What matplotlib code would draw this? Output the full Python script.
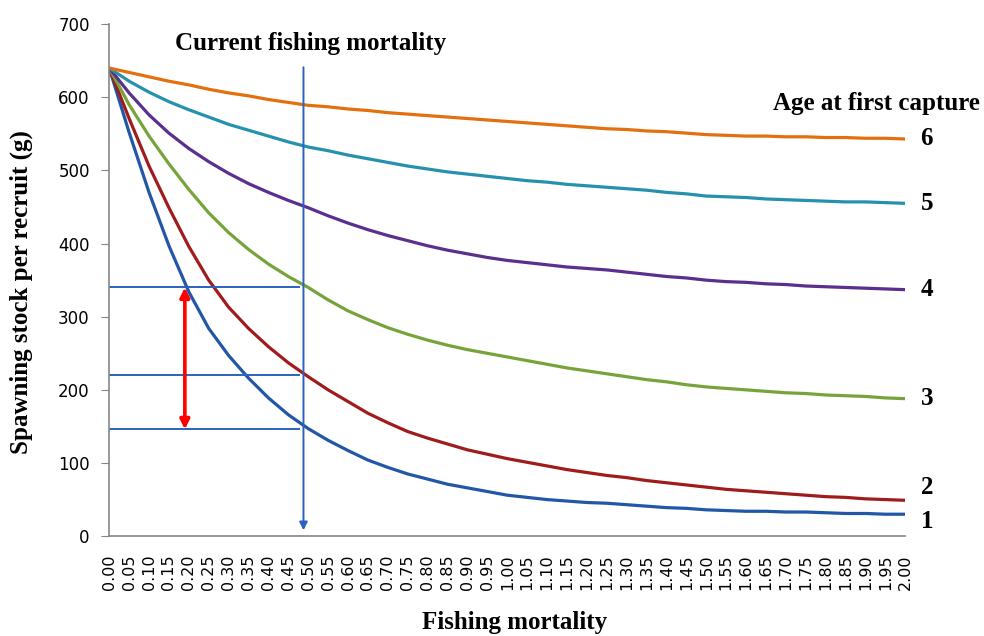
import numpy as np
import matplotlib
matplotlib.use("Agg")
import matplotlib.pyplot as plt

# fishing mortality categories
F = np.round(np.arange(0, 2.0001, 0.05), 2)
xlabels = ["%.2f" % f for f in F]

# spawning stock per recruit (g), by age at first capture
ssb_age1 = [640, 552, 470, 397, 334, 284, 247, 216, 189, 166, 147,
            131, 117, 104, 94, 85, 78, 71, 66, 61, 56,
            53, 50, 48, 46, 45, 43, 41, 39, 38, 36,
            35, 34, 34, 33, 33, 32, 31, 31, 30, 30]
ssb_age2 = [640, 571, 506, 449, 396, 350, 313, 284, 259, 237, 218,
            200, 184, 168, 155, 143, 134, 126, 118, 112, 106,
            101, 96, 91, 87, 83, 80, 76, 73, 70, 67,
            64, 62, 60, 58, 56, 54, 53, 51, 50, 49]
ssb_age3 = [640, 590, 547, 509, 474, 442, 415, 392, 372, 355, 340,
            323, 308, 296, 285, 276, 268, 261, 255, 250, 245,
            240, 235, 230, 226, 222, 218, 214, 211, 207, 204,
            202, 200, 198, 196, 195, 193, 192, 191, 189, 188]
ssb_age4 = [640, 606, 576, 551, 530, 512, 496, 482, 470, 459, 449,
            438, 428, 419, 411, 404, 397, 391, 386, 381, 377,
            374, 371, 368, 366, 364, 361, 358, 355, 353, 350,
            348, 347, 345, 344, 342, 341, 340, 339, 338, 337]
ssb_age5 = [640, 622, 607, 594, 583, 573, 563, 555, 547, 539, 532,
            527, 521, 516, 511, 506, 502, 498, 495, 492, 489,
            486, 484, 481, 479, 477, 475, 473, 470, 468, 465,
            464, 463, 461, 460, 459, 458, 457, 457, 456, 455]
ssb_age6 = [640, 634, 628, 622, 617, 611, 606, 602, 597, 593, 589,
            587, 584, 582, 579, 577, 575, 573, 571, 569, 567,
            565, 563, 561, 559, 557, 556, 554, 553, 551, 549,
            548, 547, 547, 546, 546, 545, 545, 544, 544, 543]

ages = ["1", "2", "3", "4", "5", "6"]
series = [ssb_age1, ssb_age2, ssb_age3, ssb_age4, ssb_age5, ssb_age6]
colors = ["#2157A6", "#A01C1C", "#77A43A", "#5A2F8E", "#2691AE", "#E3700E"]

# reference markers
f_current = 0.488
ssb_refs = [340, 220, 146]
f_arrow = 0.19

fig = plt.figure(figsize=(9.84, 6.36), dpi=100)
ax = fig.add_axes([0.111, 0.157, 0.809, 0.805])

for s, c in zip(series, colors):
    ax.plot(F, s, color=c, lw=2.3, solid_capstyle="butt")

blue = "#2B62BE"
for yv in ssb_refs:
    ax.plot([0, 0.478], [yv, yv], color=blue, lw=1.4)
ax.annotate("", xy=(f_current, 8), xytext=(f_current, 641),
            arrowprops=dict(arrowstyle="-|>", color=blue, lw=1.4,
                            mutation_scale=12, shrinkA=0, shrinkB=0))
ax.annotate("", xy=(f_arrow, ssb_refs[0]), xytext=(f_arrow, ssb_refs[2]),
            arrowprops=dict(arrowstyle="<|-|>", color="red", lw=2.6,
                            mutation_scale=14, shrinkA=0, shrinkB=0))

serif = "Liberation Serif"
fig.text(0.316, 0.931, "Current fishing mortality", ha="center", va="center",
         fontsize=18, fontweight="bold", family=serif)
fig.text(0.996, 0.838, "Age at first capture", ha="right", va="center",
         fontsize=18, fontweight="bold", family=serif)

label_dy = {"1": -5, "2": 9}
for a, s in zip(ages, series):
    ax.annotate(a, xy=(F[-1], s[-1]), xytext=(11, label_dy.get(a, 0)),
                textcoords="offset points", ha="left", va="center",
                fontsize=18, fontweight="bold", family=serif,
                annotation_clip=False)

ax.set_xlim(0, 2.0)
ax.set_ylim(0, 700)
ax.set_xticks(F)
ax.set_xticklabels(xlabels, rotation=90, fontsize=11.5)
ax.set_yticks(np.arange(0, 701, 100))
ax.tick_params(axis="y", labelsize=12, length=6, color="#868686", pad=8)
ax.tick_params(axis="x", length=0, pad=13)

for side in ["top", "right"]:
    ax.spines[side].set_visible(False)
for side in ["left", "bottom"]:
    ax.spines[side].set_color("#868686")
    ax.spines[side].set_linewidth(1.2)

fig.text(0.523, 0.022, "Fishing mortality", ha="center", va="center",
         fontsize=18, fontweight="bold", family=serif)
fig.text(0.022, 0.54, "Spawning stock per recruit (g)", ha="center",
         va="center", rotation=90, fontsize=18, fontweight="bold",
         family=serif)

fig.savefig("out.png", dpi=100)
